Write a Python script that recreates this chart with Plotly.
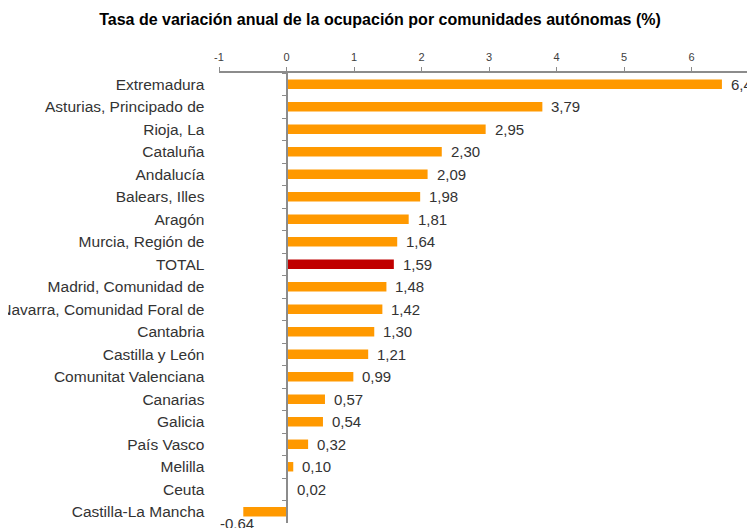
import plotly.graph_objects as go

# datos: tasa de variación anual de la ocupación (%)
comunidades = ['Extremadura', 'Asturias, Principado de', 'Rioja, La', 'Cataluña', 'Andalucía',
               'Balears, Illes', 'Aragón', 'Murcia, Región de', 'TOTAL', 'Madrid, Comunidad de',
               'Navarra, Comunidad Foral de', 'Cantabria', 'Castilla y León', 'Comunitat Valenciana',
               'Canarias', 'Galicia', 'País Vasco', 'Melilla', 'Ceuta', 'Castilla-La Mancha']
variacion = [6.45, 3.79, 2.95, 2.30, 2.09, 1.98, 1.81, 1.64, 1.59, 1.48,
             1.42, 1.30, 1.21, 0.99, 0.57, 0.54, 0.32, 0.10, 0.02, -0.64]
x_ticks = [-1, 0, 1, 2, 3, 4, 5, 6]

x_min, x_max = -1, 6.94
colores = ['#C00000' if c == 'TOTAL' else '#FF9900' for c in comunidades]

fig = go.Figure(go.Bar(
    x=variacion, y=comunidades, orientation='h',
    marker=dict(color=colores, line=dict(width=0)),
    hoverinfo='skip',
))

# etiquetas de valor
for c, v in zip(comunidades, variacion):
    txt = f'{v:.2f}'.replace('.', ',')
    if v >= 0:
        fig.add_annotation(x=v, y=c, text=txt, showarrow=False, xanchor='left',
                           xshift=7, font=dict(family='Arial', size=15, color='#333333'))
    else:
        fig.add_annotation(x=v, y=c, text=txt, showarrow=False, xanchor='center',
                           xshift=-6, yshift=-12, font=dict(family='Arial', size=15, color='#333333'))

# la página tiene 8px de margen en el body
fig.update_layout(
    width=747, height=520,
    margin=dict(l=211, r=0, t=65, b=5, autoexpand=False),
    plot_bgcolor='white', paper_bgcolor='white',
    bargap=0.58,
    showlegend=False,
    title=dict(text='<b>Tasa de variación anual de la ocupación por comunidades autónomas (%)</b>',
               x=0.498, xanchor='center', y=0.979, yanchor='middle', automargin=False,
               font=dict(family='Arial', size=16, color='#000000')),
    xaxis=dict(range=[x_min, x_max], side='top', tickvals=x_ticks, ticktext=[str(t) for t in x_ticks],
               showgrid=False, zeroline=False, showline=True, linecolor='#8c8c8c', linewidth=2,
               ticks='outside', ticklen=4, tickcolor='#8c8c8c', tickwidth=1, automargin=False,
               ticklabelstandoff=2,
               tickfont=dict(family='Arial', size=11, color='#404040')),
    yaxis=dict(autorange='reversed', anchor='free', position=(0 - x_min) / (x_max - x_min),
               showgrid=False, zeroline=False, showline=True, linecolor='#8c8c8c', linewidth=2,
               ticks='outside', tickson='boundaries', ticklen=4, tickcolor='#8c8c8c',
               ticklabelstandoff=78, automargin=False,
               tickfont=dict(family='Arial', size=15.5, color='#333333')),
)

fig.write_html('out.html')
